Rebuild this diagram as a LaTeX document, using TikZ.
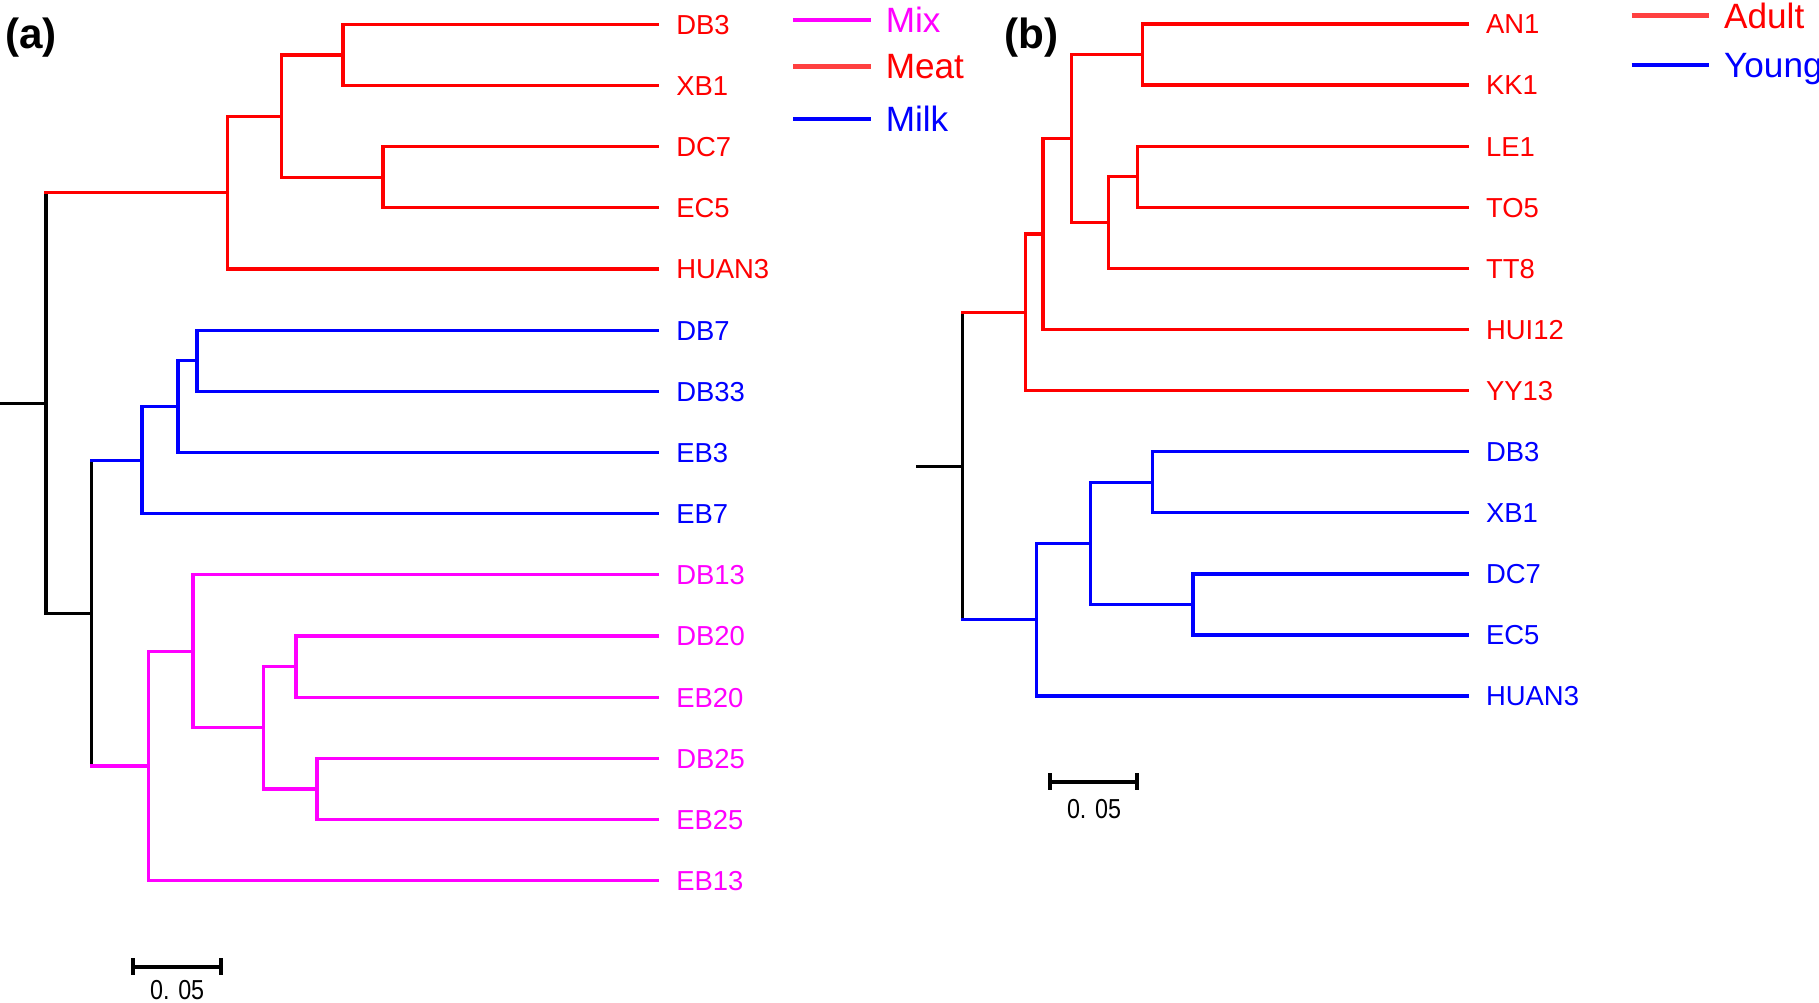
\documentclass[tikz,border=0pt]{standalone}
\usepackage{fontspec}
\setmainfont{Liberation Sans}
\usetikzlibrary{positioning}
\definecolor{mixcol}{RGB}{255,0,255}
\definecolor{meatcol}{RGB}{255,0,0}
\definecolor{milkcol}{RGB}{0,0,255}
\definecolor{legred}{RGB}{255,64,64}

\begin{document}
\begin{tikzpicture}[x=0.01cm, y=-0.01cm,
    node distance=4pt,
    branch/.style={line width=0.95pt, line cap=rect},
    leaf/.style={anchor=west, inner xsep=5.1pt, inner ysep=0pt, text height=5.6pt, text depth=0pt, font=\fontsize{7.8}{9}\selectfont},
    legline/.style={line width=1.3pt},
    legtext/.style={anchor=west, inner sep=0pt, text depth=0pt, font=\fontsize{10}{12}\selectfont},
    panel/.style={anchor=west, inner sep=0pt, font=\fontsize{12}{14}\selectfont\bfseries},
    scalebar/.style={line width=1.15pt},
    scaletext/.style={inner sep=0pt, text depth=0pt, font=\fontsize{7.8}{9}\selectfont}
    ]
    \useasboundingbox (0,0) rectangle (1819,1002);

    % Panel (a)
    \node[panel] (lbl_a) at (4.5,38) {(a)};

    % Leaves (a)
    \node[leaf, text=meatcol] (a_db3) at (657.6,24.3) {DB3};
    \node[leaf, text=meatcol] (a_xb1) at (657.6,85.5) {XB1};
    \node[leaf, text=meatcol] (a_dc7) at (657.6,146.6) {DC7};
    \node[leaf, text=meatcol] (a_ec5) at (657.6,207.8) {EC5};
    \node[leaf, text=meatcol] (a_huan3) at (657.6,269.0) {HUAN3};
    \node[leaf, text=milkcol] (a_db7) at (657.6,330.2) {DB7};
    \node[leaf, text=milkcol] (a_db33) at (657.6,391.3) {DB33};
    \node[leaf, text=milkcol] (a_eb3) at (657.6,452.5) {EB3};
    \node[leaf, text=milkcol] (a_eb7) at (657.6,513.7) {EB7};
    \node[leaf, text=mixcol] (a_db13) at (657.6,574.8) {DB13};
    \node[leaf, text=mixcol] (a_db20) at (657.6,636.0) {DB20};
    \node[leaf, text=mixcol] (a_eb20) at (657.6,697.2) {EB20};
    \node[leaf, text=mixcol] (a_db25) at (657.6,758.3) {DB25};
    \node[leaf, text=mixcol] (a_eb25) at (657.6,819.5) {EB25};
    \node[leaf, text=mixcol] (a_eb13) at (657.6,880.7) {EB13};

    % Inner nodes (a)
    \coordinate (a_root0) at (0,403.3);
    \coordinate (a_root) at (46,403.3);
    \coordinate (a_n1) at (227.7,192.7);
    \coordinate (a_n2) at (281.3,116.6);
    \coordinate (a_n3) at (342.9,54.9);
    \coordinate (a_n4) at (383,177.2);
    \coordinate (a_n5) at (91.5,613.3);
    \coordinate (a_n6) at (142,460.2);
    \coordinate (a_n7) at (178,406.6);
    \coordinate (a_n8) at (196.9,360.7);
    \coordinate (a_n9) at (148.7,766.1);
    \coordinate (a_n10) at (192.9,651.4);
    \coordinate (a_n11) at (263.4,727.7);
    \coordinate (a_n12) at (296,666.6);
    \coordinate (a_n13) at (317,788.9);

    % Branches (a)
    \draw[branch] (a_root0) -- (a_root);
    \draw[branch] (a_root) -- (a_root |- a_n1);
    \draw[branch] (a_root) |- (a_n5);
    \draw[branch, meatcol] (a_root |- a_n1) -- (a_n1);
    \draw[branch, meatcol] (a_n1) |- (a_n2);
    \draw[branch, meatcol] (a_n1) |- (a_huan3);
    \draw[branch, meatcol] (a_n2) |- (a_n3);
    \draw[branch, meatcol] (a_n2) |- (a_n4);
    \draw[branch, meatcol] (a_n3) |- (a_db3);
    \draw[branch, meatcol] (a_n3) |- (a_xb1);
    \draw[branch, meatcol] (a_n4) |- (a_dc7);
    \draw[branch, meatcol] (a_n4) |- (a_ec5);
    \draw[branch] (a_n5) -- (a_n5 |- a_n6);
    \draw[branch] (a_n5) -- (a_n5 |- a_n9);
    \draw[branch, milkcol] (a_n5 |- a_n6) -- (a_n6);
    \draw[branch, milkcol] (a_n6) |- (a_n7);
    \draw[branch, milkcol] (a_n6) |- (a_eb7);
    \draw[branch, milkcol] (a_n7) |- (a_n8);
    \draw[branch, milkcol] (a_n7) |- (a_eb3);
    \draw[branch, milkcol] (a_n8) |- (a_db7);
    \draw[branch, milkcol] (a_n8) |- (a_db33);
    \draw[branch, mixcol] (a_n5 |- a_n9) -- (a_n9);
    \draw[branch, mixcol] (a_n9) |- (a_n10);
    \draw[branch, mixcol] (a_n9) |- (a_eb13);
    \draw[branch, mixcol] (a_n10) |- (a_db13);
    \draw[branch, mixcol] (a_n10) |- (a_n11);
    \draw[branch, mixcol] (a_n11) |- (a_n12);
    \draw[branch, mixcol] (a_n11) |- (a_n13);
    \draw[branch, mixcol] (a_n12) |- (a_db20);
    \draw[branch, mixcol] (a_n12) |- (a_eb20);
    \draw[branch, mixcol] (a_n13) |- (a_db25);
    \draw[branch, mixcol] (a_n13) |- (a_eb25);

    % Scale bar (a)
    \coordinate (a_bar_l) at (133,966.7);
    \coordinate (a_bar_r) at (221.4,966.7);
    \coordinate (a_bar_m) at (177.2,966.7);
    \draw[scalebar] (a_bar_l) -- (a_bar_r);
    \draw[scalebar] ([yshift=2.4pt]a_bar_l) -- ([yshift=-2.4pt]a_bar_l);
    \draw[scalebar] ([yshift=2.4pt]a_bar_r) -- ([yshift=-2.4pt]a_bar_r);
    \node[scaletext, below=3.6pt of a_bar_m] (a_bar_txt) {\scalebox{0.85}[1]{0. 05}};

    % Legend (a)
    \coordinate (a_mix_l) at (793.3,20);
    \coordinate (a_mix_r) at (871,20);
    \coordinate (a_meat_l) at (793.3,66.3);
    \coordinate (a_meat_r) at (871,66.3);
    \coordinate (a_milk_l) at (793.3,119);
    \coordinate (a_milk_r) at (871,119);
    \draw[legline, mixcol] (a_mix_l) -- (a_mix_r);
    \draw[legline, legred] (a_meat_l) -- (a_meat_r);
    \draw[legline, milkcol] (a_milk_l) -- (a_milk_r);
    \node[legtext, text=mixcol, right=of a_mix_r] (a_mix_txt) {Mix};
    \node[legtext, text=meatcol, right=of a_meat_r] (a_meat_txt) {Meat};
    \node[legtext, text=milkcol, right=of a_milk_r] (a_milk_txt) {Milk};

    % Panel (b)
    \node[panel] (lbl_b) at (1004,38) {(b)};

    % Leaves (b)
    \node[leaf, text=meatcol] (b_an1) at (1467.4,24) {AN1};
    \node[leaf, text=meatcol] (b_kk1) at (1467.4,85.1) {KK1};
    \node[leaf, text=meatcol] (b_le1) at (1467.4,146.2) {LE1};
    \node[leaf, text=meatcol] (b_to5) at (1467.4,207.3) {TO5};
    \node[leaf, text=meatcol] (b_tt8) at (1467.4,268.4) {TT8};
    \node[leaf, text=meatcol] (b_hui12) at (1467.4,329.5) {HUI12};
    \node[leaf, text=meatcol] (b_yy13) at (1467.4,390.6) {YY13};
    \node[leaf, text=milkcol] (b_db3) at (1467.4,451.7) {DB3};
    \node[leaf, text=milkcol] (b_xb1) at (1467.4,512.8) {XB1};
    \node[leaf, text=milkcol] (b_dc7) at (1467.4,573.9) {DC7};
    \node[leaf, text=milkcol] (b_ec5) at (1467.4,635) {EC5};
    \node[leaf, text=milkcol] (b_huan3) at (1467.4,696.1) {HUAN3};

    % Inner nodes (b)
    \coordinate (b_root0) at (917.6,466.2);
    \coordinate (b_root) at (962.7,466.2);
    \coordinate (b_n1) at (1025.4,312.4);
    \coordinate (b_n2) at (1043,233.9);
    \coordinate (b_n3) at (1071.2,138.4);
    \coordinate (b_n4) at (1142.7,54.55);
    \coordinate (b_n5) at (1108.7,222.6);
    \coordinate (b_n6) at (1137.4,176.75);
    \coordinate (b_n7) at (1036.6,619.7);
    \coordinate (b_n8) at (1090.5,543.35);
    \coordinate (b_n9) at (1152.6,482.25);
    \coordinate (b_n10) at (1193,604.45);

    % Branches (b)
    \draw[branch] (b_root0) -- (b_root);
    \draw[branch] (b_root) -- (b_root |- b_n1);
    \draw[branch] (b_root) -- (b_root |- b_n7);
    \draw[branch, meatcol] (b_root |- b_n1) -- (b_n1);
    \draw[branch, meatcol] (b_n1) |- (b_n2);
    \draw[branch, meatcol] (b_n1) |- (b_yy13);
    \draw[branch, meatcol] (b_n2) |- (b_n3);
    \draw[branch, meatcol] (b_n2) |- (b_hui12);
    \draw[branch, meatcol] (b_n3) |- (b_n4);
    \draw[branch, meatcol] (b_n3) |- (b_n5);
    \draw[branch, meatcol] (b_n4) |- (b_an1);
    \draw[branch, meatcol] (b_n4) |- (b_kk1);
    \draw[branch, meatcol] (b_n5) |- (b_n6);
    \draw[branch, meatcol] (b_n5) |- (b_tt8);
    \draw[branch, meatcol] (b_n6) |- (b_le1);
    \draw[branch, meatcol] (b_n6) |- (b_to5);
    \draw[branch, milkcol] (b_root |- b_n7) -- (b_n7);
    \draw[branch, milkcol] (b_n7) |- (b_n8);
    \draw[branch, milkcol] (b_n7) |- (b_huan3);
    \draw[branch, milkcol] (b_n8) |- (b_n9);
    \draw[branch, milkcol] (b_n8) |- (b_n10);
    \draw[branch, milkcol] (b_n9) |- (b_db3);
    \draw[branch, milkcol] (b_n9) |- (b_xb1);
    \draw[branch, milkcol] (b_n10) |- (b_dc7);
    \draw[branch, milkcol] (b_n10) |- (b_ec5);

    % Scale bar (b)
    \coordinate (b_bar_l) at (1050,781.7);
    \coordinate (b_bar_r) at (1137.4,781.7);
    \coordinate (b_bar_m) at (1094,781.7);
    \draw[scalebar] (b_bar_l) -- (b_bar_r);
    \draw[scalebar] ([yshift=2.4pt]b_bar_l) -- ([yshift=-2.4pt]b_bar_l);
    \draw[scalebar] ([yshift=2.4pt]b_bar_r) -- ([yshift=-2.4pt]b_bar_r);
    \node[scaletext, below=4.7pt of b_bar_m] (b_bar_txt) {\scalebox{0.85}[1]{0. 05}};

    % Legend (b)
    \coordinate (b_adult_l) at (1631.5,15.7);
    \coordinate (b_adult_r) at (1709,15.7);
    \coordinate (b_young_l) at (1631.5,65);
    \coordinate (b_young_r) at (1709,65);
    \draw[legline, legred] (b_adult_l) -- (b_adult_r);
    \draw[legline, milkcol] (b_young_l) -- (b_young_r);
    \node[legtext, text=meatcol, right=4.1pt of b_adult_r] (b_adult_txt) {Adult};
    \node[legtext, text=milkcol, right=4.1pt of b_young_r] (b_young_txt) {Young};

\end{tikzpicture}
\end{document}
